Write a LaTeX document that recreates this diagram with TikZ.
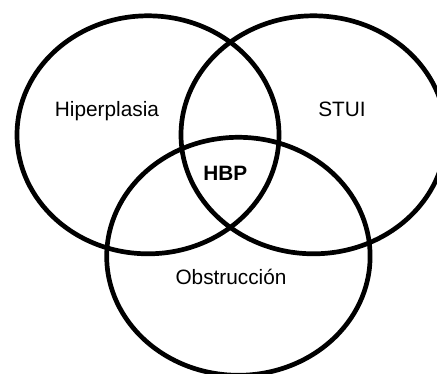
\documentclass[tikz,border=0pt]{standalone}
\usepackage{fontspec}
\setmainfont{Liberation Sans}
\begin{document}
\begin{tikzpicture}[x=1pt,y=-1pt,
  venn/.style={draw=black,line width=4.7pt},
  lbl/.style={font=\fontsize{20.8}{24}\selectfont, inner sep=0pt, anchor=base}]
\useasboundingbox (0,0) rectangle (437,373);
\clip (0,0) rectangle (437,373);
\draw[venn] (148,134.8) ellipse [x radius=131pt, y radius=119pt];
\draw[venn] (313.5,134.8) ellipse [x radius=132.5pt, y radius=119pt];
\draw[venn] (238.4,256.3) ellipse [x radius=131.7pt, y radius=119pt];
\node[lbl] (hip) at (107,116) {Hiperplasia};
\node[lbl] (stui) at (342,116) {STUI};
\node[lbl,font=\fontsize{20.8}{24}\selectfont\bfseries] (hbp) at (225.3,180) {HBP};
\node[lbl] (obs) at (231,284.7) {Obstrucción};
\end{tikzpicture}
\end{document}
